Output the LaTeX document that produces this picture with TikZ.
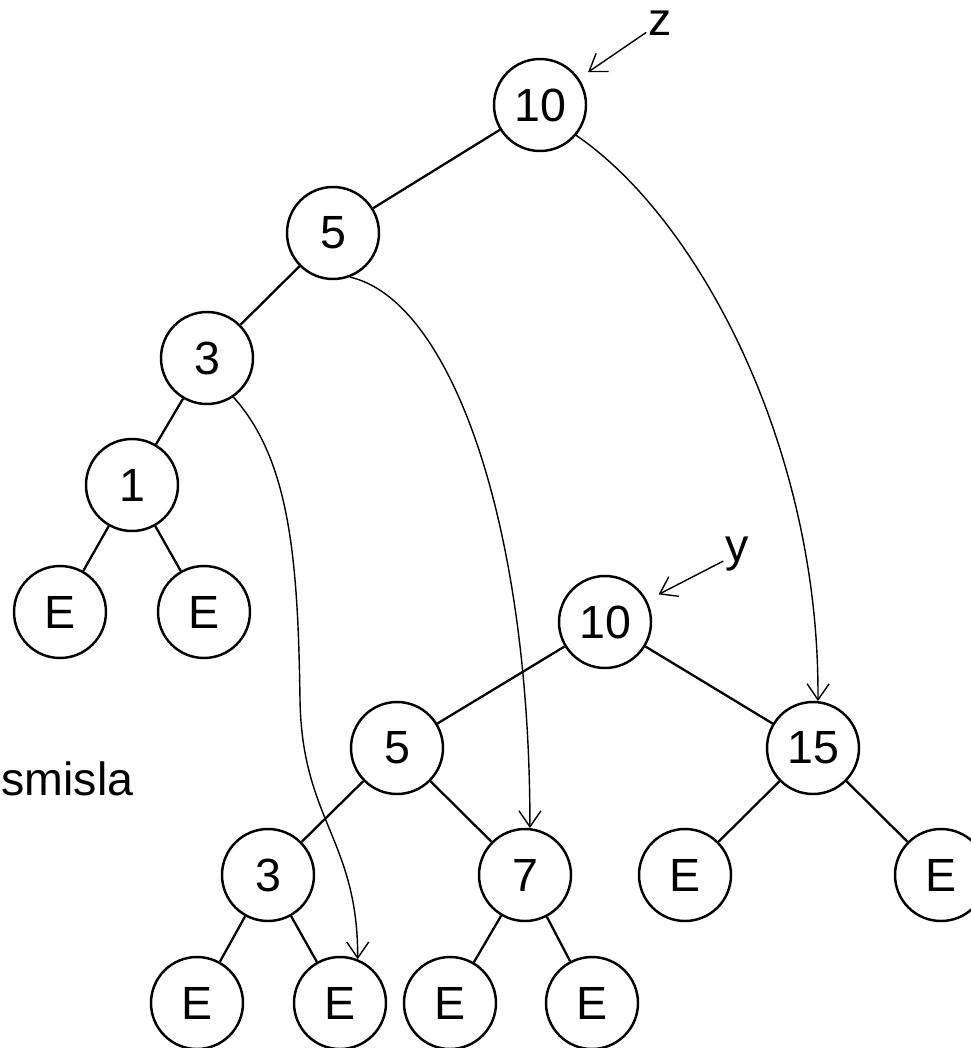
\documentclass[tikz,border=0pt]{standalone}
\usepackage{fontspec}
\setmainfont{Liberation Sans}
\usetikzlibrary{arrows.meta}

\begin{document}
\begin{tikzpicture}[
        every node/.style={font=\fontsize{26.5}{31}\selectfont},
        vert/.style={draw, circle, line width=1.4pt, minimum size=1.84cm, inner sep=0pt},
        edge/.style={line width=1.3pt},
        link/.style={line width=0.8pt, -{Straight Barb[length=0.32cm, width=0.44cm]}}]
      \useasboundingbox (0,0) rectangle (19.4,-20.96);
      % first tree (z)
      \node[vert] (zA) at (10.8,-2.1) {10};
      \node[vert] (zB) at (6.66,-4.66) {5};
      \node[vert] (zC) at (4.14,-7.16) {3};
      \node[vert] (zD) at (2.64,-9.7) {1};
      \node[vert] (zE1) at (1.2,-12.24) {E};
      \node[vert] (zE2) at (4.08,-12.24) {E};
      \draw[edge] (zA) -- (zB);
      \draw[edge] (zB) -- (zC);
      \draw[edge] (zC) -- (zD);
      \draw[edge] (zD) -- (zE1);
      \draw[edge] (zD) -- (zE2);
      % second tree (y)
      \node[vert] (yA) at (12.1,-12.44) {10};
      \node[vert] (yB) at (7.94,-14.96) {5};
      \node[vert] (yF) at (16.26,-14.96) {15};
      \node[vert] (yC) at (5.36,-17.5) {3};
      \node[vert] (yG) at (10.5,-17.5) {7};
      \node[vert] (yF1) at (13.7,-17.5) {E};
      \node[vert] (yF2) at (18.82,-17.5) {E};
      \node[vert] (yE1) at (3.94,-20.06) {E};
      \node[vert] (yE2) at (6.8,-20.06) {E};
      \node[vert] (yE3) at (9.0,-20.06) {E};
      \node[vert] (yE4) at (11.84,-20.06) {E};
      \draw[edge] (yA) -- (yB);
      \draw[edge] (yA) -- (yF);
      \draw[edge] (yB) -- (yC);
      \draw[edge] (yB) -- (yG);
      \draw[edge] (yF) -- (yF1);
      \draw[edge] (yF) -- (yF2);
      \draw[edge] (yC) -- (yE1);
      \draw[edge] (yC) -- (yE2);
      \draw[edge] (yG) -- (yE3);
      \draw[edge] (yG) -- (yE4);
      % pointers z and y
      \node[inner sep=1pt] (zlab) at (13.2,-0.46) {z};
      \node[inner sep=1pt] (ylab) at (14.74,-11.08) {y};
      \draw[link, shorten >=0.22cm] (zlab) -- (zA);
      \draw[link, shorten >=0.26cm] (ylab) -- (yA);
      % shared subtrees
      \draw[link] (zA.-40) .. controls (14.0,-4.4) and (16.4,-9.0) .. (yF.84);
      \draw[link] (zB.-69) .. controls (9.0,-6.0) and (10.6,-10.4) .. (yG.84);
      \draw[link] (zC.-56) .. controls (5.8,-9.2) and (5.96,-11.2) .. (6.0,-14.0)
            .. controls (6.04,-16.4) and (7.16,-16.8) .. (yE2.68);
      \node[anchor=base west, inner sep=0pt] (note) at (0.02,-15.9) {smisla};
\end{tikzpicture}
\end{document}
